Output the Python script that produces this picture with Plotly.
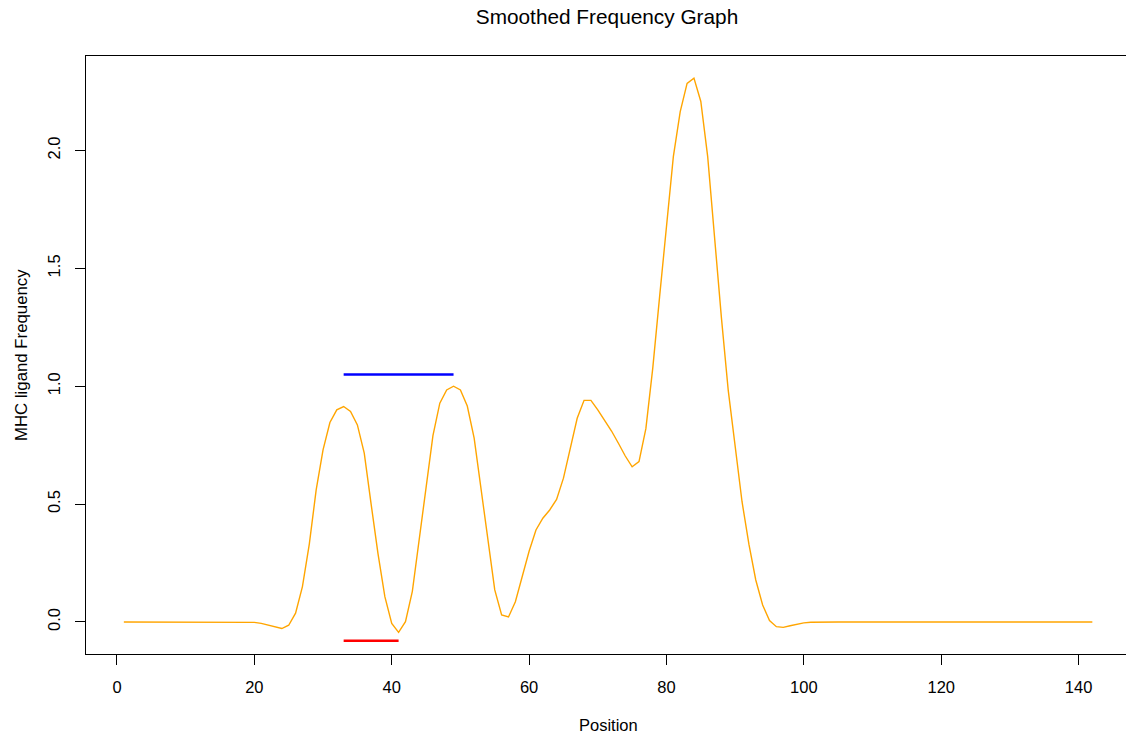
import plotly.graph_objects as go

# ---- data ----
positions = list(range(1, 143))
frequency = (
    [0.0] * 14
    + [0.0005, 0.001, 0.001, 0.001, 0.0, -0.002, -0.006, -0.013, -0.021, -0.028,
       -0.014, 0.037, 0.15, 0.33, 0.56, 0.73, 0.846, 0.90, 0.914, 0.893,
       0.836, 0.716, 0.50, 0.29, 0.107, -0.006, -0.044, 0.001, 0.13, 0.34,
       0.57, 0.79, 0.928, 0.984, 1.00, 0.984, 0.916, 0.78, 0.57, 0.35,
       0.136, 0.030, 0.021, 0.086, 0.19, 0.30, 0.39, 0.44, 0.475, 0.52,
       0.61, 0.737, 0.864, 0.94, 0.94, 0.90, 0.857, 0.81, 0.758, 0.704,
       0.658, 0.68, 0.82, 1.076, 1.38, 1.677, 1.974, 2.165, 2.285, 2.307,
       2.208, 1.974, 1.63, 1.29, 0.98, 0.74, 0.51, 0.33, 0.178, 0.072,
       0.006, -0.02, -0.023, -0.016, -0.009, -0.004, -0.001]
)
frequency += [0.0] * (len(positions) - len(frequency))

blue_x = [33, 49]
blue_y = [1.05, 1.05]
red_x = [33, 41]
red_y = [-0.08, -0.08]

x_ticks = [0, 20, 40, 60, 80, 100, 120, 140]
y_ticks = [0.0, 0.5, 1.0, 1.5, 2.0]

FONT = "Liberation Sans, Arial, Helvetica, sans-serif"

fig = go.Figure()
fig.add_trace(go.Scatter(x=positions, y=frequency, mode="lines",
                         line=dict(color="#FFA500", width=1.4), showlegend=False))
fig.add_trace(go.Scatter(x=blue_x, y=blue_y, mode="lines",
                         line=dict(color="#0000FF", width=2.6), showlegend=False))
fig.add_trace(go.Scatter(x=red_x, y=red_y, mode="lines",
                         line=dict(color="#FF0000", width=2.6), showlegend=False))

fig.update_layout(
    width=1126, height=735, autosize=False,
    margin=dict(l=86, r=0, t=56, b=81),
    paper_bgcolor="white", plot_bgcolor="white",
    font=dict(family=FONT, size=16.5, color="#000000"),
    title=dict(text="Smoothed Frequency Graph", x=607 / 1126, xanchor="center",
               xref="container", yref="container", y=1 - 17 / 735, yanchor="middle",
               font=dict(family=FONT, size=20.8, color="#000000")),
    xaxis=dict(range=[-4.51, 146.9], tickvals=x_ticks, showgrid=False, zeroline=False,
               showline=True, linecolor="#000000", linewidth=1.2, mirror=True,
               ticks="outside", ticklen=10, tickwidth=1.2, tickcolor="#000000",
               ticklabelstandoff=8),
    yaxis=dict(range=[-0.136, 2.401], tickvals=y_ticks, tickformat=".1f",
               showgrid=False, zeroline=False,
               showline=True, linecolor="#000000", linewidth=1.2, mirror=False,
               ticks="outside", ticklen=10, tickwidth=1.2, tickcolor="#000000",
               tickangle=-90, ticklabelstandoff=8),
    annotations=[
        dict(text="Position", xref="paper", yref="paper", x=(608 - 86) / 1040,
             y=(654 - 725) / 598, xanchor="center", yanchor="middle",
             showarrow=False, font=dict(family=FONT, size=16.5, color="#000000")),
        dict(text="MHC ligand Frequency", xref="paper", yref="paper",
             x=(21 - 86) / 1040, y=0.5, xanchor="center", yanchor="middle",
             textangle=-90, showarrow=False,
             font=dict(family=FONT, size=16.8, color="#000000")),
    ],
)

fig.write_html("out.html")
